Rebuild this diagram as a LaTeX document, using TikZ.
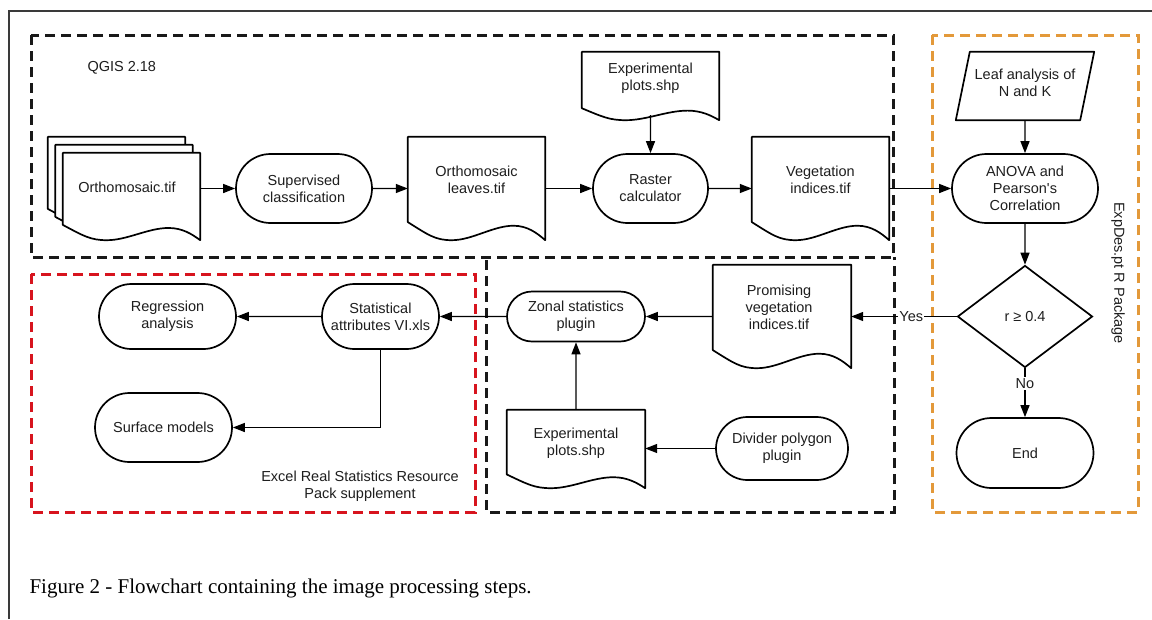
\documentclass[tikz,border=0pt]{standalone}
\usepackage{fontspec}
\setmainfont{Liberation Sans}
\newfontfamily\capfont{Liberation Serif}
\usetikzlibrary{arrows.meta,shapes.misc,shapes.geometric,calc}
\definecolor{qred}{HTML}{D7141E}
\definecolor{qorange}{HTML}{E3993A}
\definecolor{ink}{HTML}{1E1E1E}
\definecolor{frame}{HTML}{3A3A3A}
\tikzset{
  shapeline/.style={draw=black, line width=1.7pt, fill=white, line join=round},
  term/.style={rounded rectangle, draw=black, line width=1.7pt, fill=white, inner sep=0pt, align=center, text=ink},
  docnode/.style={rectangle, draw=none, inner sep=0pt},
  lbl/.style={align=center, text=ink},
  arr/.style={draw=black, line width=1.3pt, -{Triangle[length=12pt,width=9pt]}},
  grp/.style={line width=3pt, dash pattern=on 10pt off 6pt},
  every node/.style={font=\fontsize{14.5}{17}\selectfont, text=ink}
}
\newcommand\docbox[3][]{%
  \path[shapeline,#1] let \p1=#2, \p2=#3, \n1={\x2-\x1}, \n2={\y1-\y2} in
   (\x2,\y2) -- (\x2,\y1) -- (\x1,\y1) -- (\x1,{\y2+0.175*\n2})
   .. controls ({\x1+0.15*\n1},{\y2+0.05*\n2}) and ({\x1+0.2*\n1},\y2) .. ({\x1+0.32*\n1},\y2)
   .. controls ({\x1+0.47*\n1},\y2) and ({\x1+0.62*\n1},{\y2+0.14*\n2}) .. ({\x1+0.77*\n1},{\y2+0.14*\n2})
   .. controls ({\x1+0.87*\n1},{\y2+0.14*\n2}) and ({\x1+0.94*\n1},{\y2+0.07*\n2}) .. (\x2,\y2) -- cycle;}
\begin{document}
\begin{tikzpicture}[x=1pt,y=-1pt]
\useasboundingbox (0,0) rectangle (1152,619);
\fill[white] (0,0) rectangle (1152,619);
% outer frame
\draw[frame, line width=1.2pt] (9,619) -- (9,11) -- (1152,11);
% group frames
\draw[grp, draw=black!90] (31,35) rectangle (893,257);
\draw[grp, draw=black!90] (486,260) -- (486,512) -- (894,512) -- (894,257);
\draw[grp, draw=qred] (31,274) rectangle (475,512);
\draw[grp, draw=qorange] (932,35) rectangle (1138,512);
% group labels
\node[anchor=west] (qgis) at (84,68) {QGIS 2.18};
\node[rotate=-90] (expdes) at (1118,273) {ExpDes.pt R Package};
\node[lbl] (excel) at (360,486) {Excel Real Statistics Resource\\Pack supplement};
% nodes: QGIS row
\node[docnode, minimum width=152pt, minimum height=103pt] (ortho) at (124,188.5) {};
\docbox{(ortho.north west)}{([xshift=-15pt,yshift=16pt]ortho.south east)}
\docbox{([xshift=7.5pt,yshift=-8pt]ortho.north west)}{([xshift=-7.5pt,yshift=8pt]ortho.south east)}
\docbox{([xshift=15pt,yshift=-16pt]ortho.north west)}{(ortho.south east)}
\node[lbl] at ([xshift=3pt,yshift=1.5pt]ortho.center) {Orthomosaic.tif};
\node[term, minimum width=136pt, minimum height=69pt] (sup) at (304,188.5) {Supervised\\classification};
\node[docnode, minimum width=137pt, minimum height=103pt] (oleaves) at (476.5,188.5) {};
\docbox{(oleaves.north west)}{(oleaves.south east)}
\node[lbl] at ([yshift=8.5pt]oleaves.center) {Orthomosaic\\leaves.tif};
\node[docnode, minimum width=137pt, minimum height=68pt] (expT) at (650.5,86) {};
\docbox{(expT.north west)}{(expT.south east)}
\node[lbl] at ([yshift=8pt]expT.center) {Experimental\\plots.shp};
\node[term, minimum width=115pt, minimum height=69pt] (raster) at (650.5,188.5) {Raster\\calculator};
\node[docnode, minimum width=137pt, minimum height=103pt] (veg) at (820.5,188.5) {};
\docbox{(veg.north west)}{(veg.south east)}
\node[lbl] at ([yshift=8.5pt]veg.center) {Vegetation\\indices.tif};
% ExpDes column
\node[docnode, minimum width=124pt, minimum height=68pt] (leaf) at (1025,86) {};
\path[shapeline] ([xshift=7pt]leaf.north west) -- ([xshift=7pt]leaf.north east) -- ([xshift=-7pt]leaf.south east) -- ([xshift=-7pt]leaf.south west) -- cycle;
\node[lbl] at ([yshift=3pt]leaf.center) {Leaf analysis of\\N and K};
\node[term, minimum width=146pt, minimum height=69pt] (anova) at (1025,188.5) {ANOVA and\\Pearson\textquotesingle s\\Correlation};
\node[diamond, draw=black, line width=1.7pt, fill=white, inner sep=0pt, minimum width=135pt, minimum height=102pt] (dec) at (1025,316.5) {r ≥ 0.4};
\node[term, minimum width=137pt, minimum height=70pt] (endn) at (1025,453) {End};
% bottom middle group
\node[docnode, minimum width=138pt, minimum height=103pt] (prom) at (782,316.5) {};
\docbox{(prom.north west)}{(prom.south east)}
\node[lbl] at ([xshift=-3pt,yshift=9.5pt]prom.center) {Promising\\vegetation\\indices.tif};
\node[term, minimum width=138pt, minimum height=50pt] (zonal) at (576,316.5) {Zonal statistics\\plugin};
\node[docnode, minimum width=138pt, minimum height=78pt] (expB) at (576,449) {};
\docbox{(expB.north west)}{(expB.south east)}
\node[lbl] at ([yshift=6pt]expB.center) {Experimental\\plots.shp};
\node[term, minimum width=132pt, minimum height=63pt] (divider) at (782,448.5) {Divider polygon\\plugin};
% Excel group
\node[term, minimum width=117pt, minimum height=65pt] (stat) at (380.5,316.5) {Statistical\\attributes VI.xls};
\node[term, minimum width=137pt, minimum height=65pt] (regr) at (167.5,316.5) {Regression\\analysis};
\node[term, minimum width=137pt, minimum height=69pt] (surf) at (163.5,427.5) {Surface models};
% connectors
\draw[arr] (ortho.east) -- (sup.west);
\draw[arr] (sup) -- (oleaves);
\draw[arr] (oleaves) -- (raster);
\draw[arr] ([yshift=5pt]expT.south) -- (raster);
\draw[arr] (raster) -- (veg);
\draw[arr] (veg) -- (anova);
\draw[arr] (leaf) -- (anova);
\draw[arr] (anova) -- (dec);
\draw[arr] (dec.west) -- node[pos=.43, fill=white, inner sep=1pt] (yes) {Yes} (prom.east);
\draw[arr] (dec.south) -- node[pos=.31, fill=white, inner sep=1pt] (no) {No} (endn.north);
\draw[arr] (prom) -- (zonal);
\draw[arr] (divider.west) -- (divider.west -| expB.east);
\draw[arr] (expB) -- (zonal);
\draw[arr] (zonal) -- (stat);
\draw[arr] (stat) -- (regr);
\draw[arr] (stat.south) |- (surf.east);
% caption
\node[anchor=base west, font=\capfont\fontsize{21}{25}\selectfont, text=black] (cap) at (26,593) {Figure 2 - Flowchart containing the image processing steps.};
\end{tikzpicture}
\end{document}
